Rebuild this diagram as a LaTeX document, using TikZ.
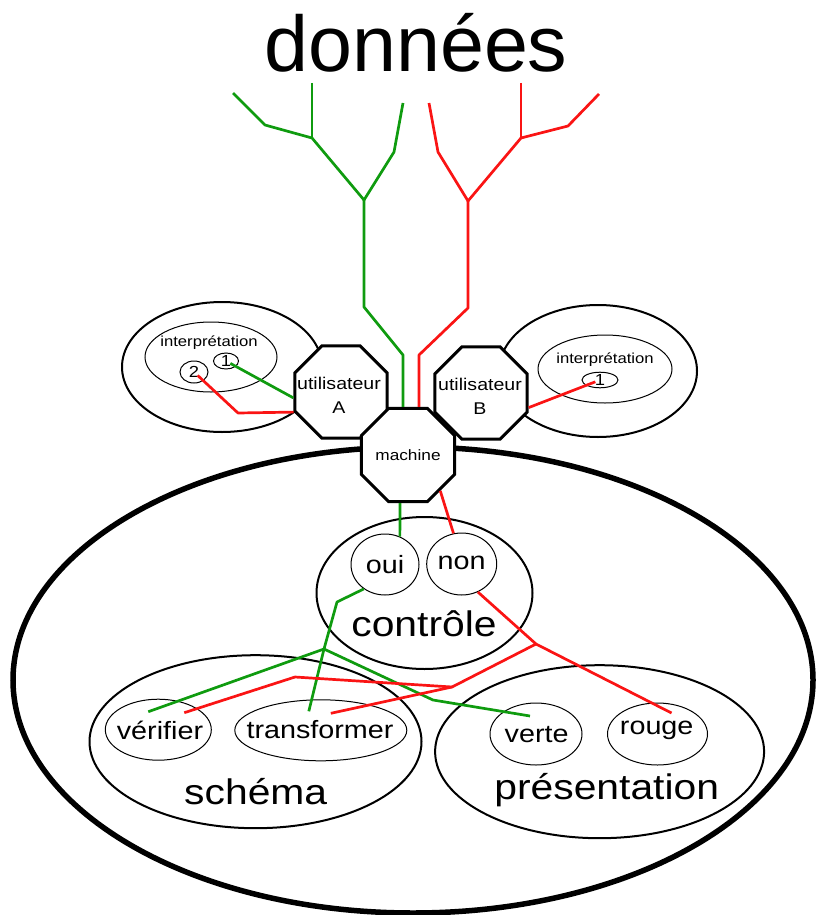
\documentclass[tikz,border=0pt]{standalone}
\usepackage{fontspec}
\setmainfont{Liberation Sans}
\newfontfamily\wf{Liberation Sans}[FakeStretch=1.15]
\usepackage{tikz}
\usetikzlibrary{shapes,calc}
\definecolor{cvert}{RGB}{15,155,15}
\definecolor{crouge}{RGB}{250,20,20}

\begin{document}
\begin{tikzpicture}[x=1pt,y=-1pt,
        oct/.style={draw,fill=white,regular polygon,regular polygon sides=8,minimum size=100pt,inner sep=0pt,line width=3pt},
        grp/.style={draw,ellipse,inner sep=0pt,line width=2pt},
        itm/.style={draw,ellipse,inner sep=0pt,line width=1pt},
        big/.style={font=\wf\fontsize{35.5}{40}\selectfont,anchor=base},
        med/.style={font=\wf\fontsize{25}{30}\selectfont,inner sep=0pt},
        sml/.style={font=\wf\fontsize{14.5}{17}\selectfont,inner sep=0pt},
        usr/.style={font=\wf\fontsize{17}{24}\selectfont,align=center,inner sep=0pt},
        gr/.style={draw=cvert,line width=2.7pt,line join=round},
        rd/.style={draw=crouge,line width=2.7pt,line join=round}]
    \useasboundingbox (0,0) rectangle (818,915);

    \node[font=\fontsize{79}{90}\selectfont,anchor=base] (titre) at (416,72) {données};

    \node[grp,line width=5.5pt,minimum width=800pt,minimum height=466pt] (monde) at (413,680) {};
    \node[grp,minimum width=200pt,minimum height=130pt] (groupeA) at (222,367) {};
    \node[grp,minimum width=198pt,minimum height=132pt] (groupeB) at (598,371) {};

    \node[itm,minimum width=132pt,minimum height=70pt] (lectA) at (211,357) {};
    \node[sml] (lectAt) at (209,343) {interprétation};
    \node[itm,minimum width=25pt,minimum height=16pt,font=\wf\fontsize{16}{18}\selectfont] (unA) at (226,361) {1};
    \node[itm,minimum width=28pt,minimum height=22pt,font=\wf\fontsize{16}{18}\selectfont] (deuxA) at (194,372) {2};

    \node[itm,minimum width=134pt,minimum height=68pt] (lectB) at (605,369) {};
    \node[sml] (lectBt) at (605,360) {interprétation};
    \node[itm,minimum width=36pt,minimum height=14pt,font=\wf\fontsize{16}{18}\selectfont] (unB) at (600,380) {1};

    \node[oct] (usrA) at (341,392) {};
    \node[usr] (usrAt) at (339,395) {utilisateur\\A};
    \node[oct] (usrB) at (481,393) {};
    \node[usr] (usrBt) at (480,396) {utilisateur\\B};
    \node[oct,minimum size=101pt] (mach) at (408,455) {};
    \node[sml,font=\wf\fontsize{15}{17}\selectfont] (machT) at (408,455) {machine};

    \node[grp,minimum width=216pt,minimum height=152pt] (ctrl) at (424.5,593) {};
    \node[big] (ctrlT) at (424,636.7) {contrôle};
    \node[itm,minimum width=68pt,minimum height=61pt] (oui) at (385,564.5) {};
    \node[med] (ouiT) at (385,565) {oui};
    \node[itm,minimum width=70pt,minimum height=62pt] (non) at (461.7,564) {};
    \node[med] (nonT) at (461.7,563) {non};

    \node[grp,minimum width=332pt,minimum height=173pt] (schema) at (255.5,741.7) {};
    \node[big] (schemaT) at (255.7,804) {schéma};
    \node[itm,minimum width=106pt,minimum height=61pt] (verif) at (158.3,729.7) {};
    \node[med] (verifT) at (160,730) {vérifier};
    \node[itm,minimum width=172pt,minimum height=61pt] (transf) at (320.8,730.3) {};
    \node[med] (transfT) at (320,730) {transformer};

    \node[grp,minimum width=329pt,minimum height=173pt] (pres) at (599.6,751.7) {};
    \node[big] (presT) at (606.7,799.5) {présentation};
    \node[itm,minimum width=92pt,minimum height=62pt] (verte) at (536,734) {};
    \node[med] (verteT) at (536.7,735) {verte};
    \node[itm,minimum width=100pt,minimum height=62pt] (rouge) at (657.5,734) {};
    \node[med] (rougeT) at (656.7,730) {rouge};

    \coordinate (gF1) at (233,93);
    \coordinate (gF2) at (265,125);
    \coordinate (gF3) at (312,83);
    \coordinate (gN1) at (312,138);
    \coordinate (gN2) at (364,200);
    \coordinate (gF4) at (403,103);
    \coordinate (gF5) at (394,152);
    \coordinate (gT1) at (364,307);
    \coordinate (gT2) at (403,355);
    \draw[gr] (gF1) -- (gF2) -- (gN1) -- (gN2) -- (gF5) -- (gF4);
    \draw[gr] (gF3) -- (gN1);
    \draw[gr] (gN2) -- (gT1) -- (gT2) -- ($(mach.90)+(-5,0)$);

    \coordinate (rF1) at (429,103);
    \coordinate (rF2) at (438,152);
    \coordinate (rN2) at (468,201);
    \coordinate (rF3) at (521,83);
    \coordinate (rN1) at (521,138);
    \coordinate (rF5) at (568,126);
    \coordinate (rF4) at (599,94);
    \coordinate (rT1) at (468,308);
    \coordinate (rT2) at (419,355);
    \draw[rd] (rF1) -- (rF2) -- (rN2) -- (rN1) -- (rF5) -- (rF4);
    \draw[rd] (rF3) -- (rN1);
    \draw[rd] (rN2) -- (rT1) -- (rT2) -- ($(mach.90)+(11,0)$);

    \coordinate (rCoudeA) at (238,413);
    \draw[gr,shorten <=5pt] (unA.center) -- (usrA.187);
    \draw[rd,shorten <=5pt] (deuxA.center) -- (rCoudeA) -- (usrA.203);
    \draw[rd,shorten <=5pt] (unB.center) -- (usrB.-17);

    \draw[gr] ($(mach.270)+(-8,0)$) -- (oui.62);
    \draw[rd] (mach.-48) -- (non.105);

    \coordinate (gC1) at (337,602);
    \coordinate (gJ) at (324,649);
    \coordinate (gC2) at (433,700);
    \draw[gr] (oui.229) -- (gC1) -- (gJ) -- ($(transf.center)+(-12,-19)$);
    \draw[gr] ($(verif.center)+(-10,-18)$) -- (gJ) -- (gC2) -- ($(verte.center)+(-6,-18)$);

    \coordinate (rJ) at (536,644);
    \coordinate (rK) at (452,687);
    \coordinate (rL) at (295,677);
    \draw[rd] (non.-60) -- (rJ) -- ($(rouge.center)+(14,-21)$);
    \draw[rd] (rJ) -- (rK) -- (rL) -- ($(verif.center)+(26,-17)$);
    \draw[rd] (rK) -- ($(transf.center)+(10,-17)$);
\end{tikzpicture}
\end{document}
